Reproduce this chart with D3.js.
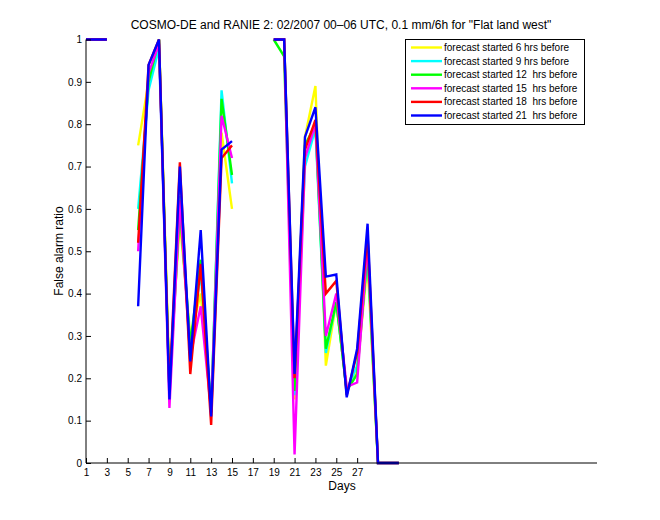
<!DOCTYPE html>
<html><head><meta charset="utf-8">
<script src="https://cdn.jsdelivr.net/npm/d3@7"></script>
<style>body{margin:0;background:#fff}svg{display:block;font-family:"Liberation Sans",Arial,sans-serif}</style>
</head><body><div id="chart"></div>
<script>
const days = d3.range(1, 32);
const seriesNames = ["forecast started 6 hrs before","forecast started 9 hrs before","forecast started 12  hrs before","forecast started 15  hrs before","forecast started 18  hrs before","forecast started 21  hrs before"];
const seriesColors = ["#ffff00","#00ffff","#00ff00","#ff00ff","#ff0000","#0000ff"];
const s6  = [1,1,1,null,null,0.75,0.90,1.00,0.20,0.57,0.30,0.40,0.12,0.78,0.60,null,null,null,1,1,0.15,0.77,0.89,0.23,0.38,0.17,0.22,0.47,0,0,0];
const s9  = [1,1,1,null,null,0.60,0.88,0.98,0.17,0.63,0.27,0.45,0.12,0.88,0.66,null,null,null,1,1,0.16,0.70,0.79,0.26,0.38,0.17,0.23,0.49,0,0,0];
const s12 = [1,1,1,null,null,0.55,0.90,1.00,0.17,0.60,0.28,0.48,0.12,0.86,0.68,null,null,null,1,0.96,0.17,0.75,0.80,0.27,0.38,0.17,0.21,0.50,0,0,0];
const s15 = [1,1,1,null,null,0.50,0.92,0.99,0.13,0.62,0.25,0.37,0.12,0.82,0.72,null,null,null,1,1,0.02,0.72,0.80,0.30,0.40,0.18,0.19,0.52,0,0,0];
const s18 = [1,1,1,null,null,0.52,0.94,1.00,0.17,0.71,0.21,0.47,0.09,0.72,0.75,null,null,null,1,1,0.20,0.74,0.81,0.40,0.43,0.16,0.26,0.54,0,0,0];
const s21 = [1,1,1,null,null,0.37,0.94,1.00,0.15,0.70,0.24,0.55,0.11,0.74,0.76,null,null,null,1,1,0.21,0.77,0.84,0.44,0.445,0.155,0.27,0.565,0,0,0];
const seriesValues = [s6, s9, s12, s15, s18, s21];
const xTicks = d3.range(1, 28, 2);
const yTicks = [0,0.1,0.2,0.3,0.4,0.5,0.6,0.7,0.8,0.9,1];
const yTickLabels = ["0","0.1","0.2","0.3","0.4","0.5","0.6","0.7","0.8","0.9","1"];

const W = 660, H = 520;
const svg = d3.select("#chart").append("svg").attr("width", W).attr("height", H);
svg.append("rect").attr("width", W).attr("height", H).attr("fill", "#fff");

const x = d3.scaleLinear().domain([1, 50]).range([86, 597]);
const y = d3.scaleLinear().domain([0, 1]).range([463, 39.5]);

// lines
const line = d3.line().defined(d => d.v != null).x(d => x(d.day)).y(d => y(d.v));
seriesValues.forEach((vals, i) => {
  svg.append("path")
    .datum(days.map((d, j) => ({day: d, v: vals[j]})))
    .attr("fill", "none").attr("stroke", seriesColors[i]).attr("stroke-width", 2.4)
    .attr("stroke-linejoin", "miter").attr("d", line);
});

// axes
const xAxis = d3.axisBottom(x).tickValues(xTicks).tickSize(-5).tickPadding(4).tickFormat(d3.format("d"));
const gx = svg.append("g").attr("transform", `translate(0,${y(0)})`).call(xAxis);
gx.select(".domain").attr("d", `M${x(1)},0H${x(50)}`);
const yAxis = d3.axisLeft(y).tickValues(yTicks).tickSize(-5).tickPadding(4).tickFormat((d, i) => yTickLabels[i]);
const gy = svg.append("g").attr("transform", `translate(${x(1)},0)`).call(yAxis);
gy.select(".domain").attr("d", `M0,${y(0)}V${y(1)}`);
[gx, gy].forEach(g => {
  g.selectAll("text").attr("font-size", 10).attr("font-family", "Liberation Sans, Arial, sans-serif").attr("fill", "#000");
  g.selectAll("line,path").attr("stroke", "#000");
});
gx.selectAll("text").attr("dy", "0.9em");

// title and labels
svg.append("text").attr("x", 341).attr("y", 29).attr("text-anchor", "middle").attr("font-size", 12)
  .text('COSMO-DE and RANIE 2: 02/2007 00–06 UTC, 0.1 mm/6h for "Flat land west"');
svg.append("text").attr("x", 342).attr("y", 490).attr("text-anchor", "middle").attr("font-size", 12).text("Days");
svg.append("text").attr("transform", "translate(63,251) rotate(-90)").attr("text-anchor", "middle").attr("font-size", 12).text("False alarm ratio");

// legend
const lg = svg.append("g");
lg.append("rect").attr("x", 405.5).attr("y", 39.5).attr("width", 179).attr("height", 85)
  .attr("fill", "#fff").attr("stroke", "#000").attr("stroke-width", 1);
seriesNames.forEach((n, i) => {
  const yy = 47.5 + i * 13.6;
  lg.append("line").attr("x1", 411).attr("x2", 442).attr("y1", yy).attr("y2", yy)
    .attr("stroke", seriesColors[i]).attr("stroke-width", 2.4);
  lg.append("text").attr("x", 444).attr("y", yy + 3.5).attr("font-size", 10).attr("xml:space", "preserve")
    .style("white-space", "pre").text(n);
});
</script></body></html>
